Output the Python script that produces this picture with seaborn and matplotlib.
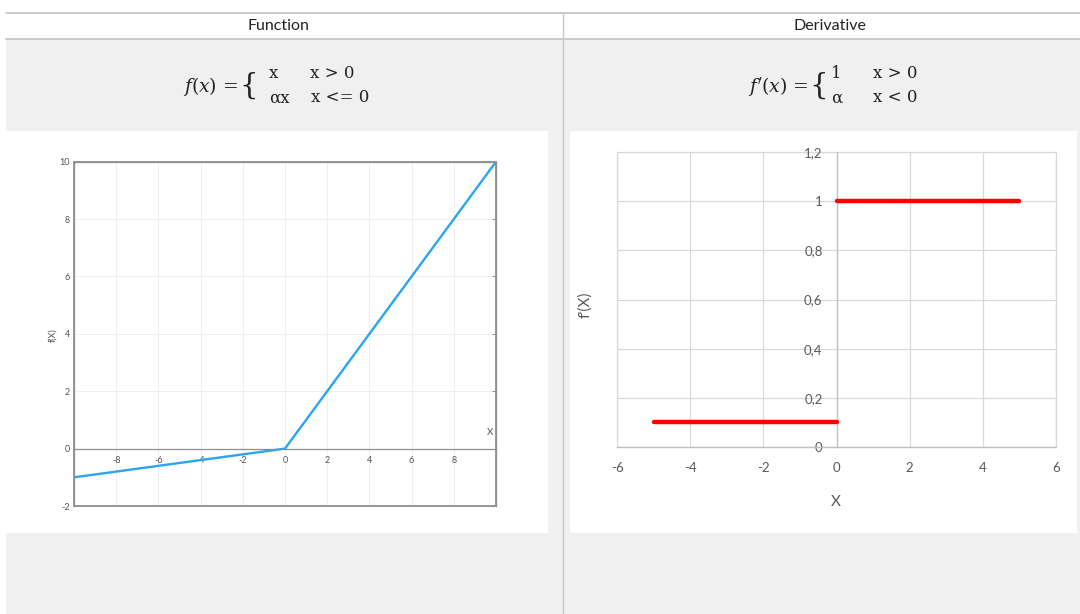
import matplotlib
matplotlib.use("Agg")
import matplotlib.pyplot as plt
import seaborn as sns
from matplotlib.patches import Rectangle
from matplotlib.lines import Line2D

# ---------------- data ----------------
column_titles = ["Function", "Derivative"]
func_x = [-10, 0, 10]
func_y = [-1, 0, 10]
func_xticks = [-8, -6, -4, -2, 0, 2, 4, 6, 8]
func_yticks = [-2, 0, 2, 4, 6, 8, 10]
deriv_neg_x = [-5, 0]
deriv_neg_y = [0.1, 0.1]
deriv_pos_x = [0, 5]
deriv_pos_y = [1, 1]
deriv_xticks = [-6, -4, -2, 0, 2, 4, 6]
deriv_yticks = [0, 0.2, 0.4, 0.6, 0.8, 1, 1.2]
deriv_yticklabels = ["0", "0,2", "0,4", "0,6", "0,8", "1", "1,2"]

sns.set_theme(style="white")
plt.rcParams["font.family"] = ["Lato", "DejaVu Sans"]
plt.rcParams["mathtext.fontset"] = "dejavuserif"
plt.rcParams["axes.unicode_minus"] = False

W, H = 1080, 614
fig = plt.figure(figsize=(10.8, 6.14), dpi=100)
fig.patch.set_facecolor("white")


def fx(x):
    return x / W


def fy(y):
    return 1 - y / H


def rect(x0, y0, x1, y1, color, z=-10):
    fig.patches.append(Rectangle((fx(x0), fy(y1)), fx(x1) - fx(x0), fy(y0) - fy(y1),
                                 transform=fig.transFigure, facecolor=color,
                                 edgecolor="none", zorder=z))


def line(x0, y0, x1, y1, color, lw):
    fig.lines.append(Line2D([fx(x0), fx(x1)], [fy(y0), fy(y1)], transform=fig.transFigure,
                            color=color, lw=lw, zorder=-5))


# table layout
rect(6, 38, 1080, 614, "#f0f0f0")
rect(6, 131, 548, 533, "white", z=-9)
rect(570, 131, 1077, 533, "white", z=-9)
line(6, 13, 1080, 13, "#c6c6c6", 1.3)
line(6, 38.5, 1080, 38.5, "#c6c6c6", 1.3)
line(563, 13, 563, 614, "#c6c6c6", 1.0)

fig.text(fx(278), fy(26), column_titles[0], ha="center", va="center", fontsize=11.5, color="#222222")
fig.text(fx(830), fy(26), column_titles[1], ha="center", va="center", fontsize=11.5, color="#222222")

serif = ["DejaVu Serif"]
fc = "#222222"
# left formula
fig.text(fx(238), fy(86), r"$f(x)$ =", ha="right", va="center", fontsize=13.5, family=serif, color=fc)
fig.text(fx(249), fy(86), "{", ha="center", va="center", fontsize=21, family=serif, color=fc)
fig.text(fx(273), fy(74), "x", ha="center", va="center", fontsize=12, family=serif, color=fc)
fig.text(fx(310), fy(74), "x > 0", ha="left", va="center", fontsize=12, family=serif, color=fc)
fig.text(fx(269), fy(98), "αx", ha="left", va="center", fontsize=12, family=serif, color=fc)
fig.text(fx(311), fy(98), "x <= 0", ha="left", va="center", fontsize=12, family=serif, color=fc)
# right formula
fig.text(fx(808), fy(86), r"$f'(x)$ =", ha="right", va="center", fontsize=13.5, family=serif, color=fc)
fig.text(fx(819), fy(86), "{", ha="center", va="center", fontsize=21, family=serif, color=fc)
fig.text(fx(836), fy(74), "1", ha="center", va="center", fontsize=12, family=serif, color=fc)
fig.text(fx(873), fy(74), "x > 0", ha="left", va="center", fontsize=12, family=serif, color=fc)
fig.text(fx(837), fy(98), "α", ha="center", va="center", fontsize=12, family=serif, color=fc)
fig.text(fx(873), fy(98), "x < 0", ha="left", va="center", fontsize=12, family=serif, color=fc)

# ---------------- left chart: function ----------------
axL = fig.add_axes([fx(74), fy(506), fx(496) - fx(74), fy(161.7) - fy(506)])
axL.set_facecolor("white")
sns.lineplot(x=func_x, y=func_y, ax=axL, color="#2aa4f4", lw=1.7)
axL.set_xlim(-10, 10)
axL.set_ylim(-2, 10)
axL.set_xticks(func_xticks)
axL.set_yticks(func_yticks)
axL.grid(True, color="#ececec", lw=0.6)
axL.spines["bottom"].set_position(("data", 0))
for s in axL.spines.values():
    s.set_color("#8f8f8f")
    s.set_linewidth(0.9)
axL.add_patch(Rectangle((0, 0), 1, 1, transform=axL.transAxes, fill=False,
                        edgecolor="#8f8f8f", lw=1.3, clip_on=False, zorder=5))
axL.tick_params(axis="both", direction="in", length=3, width=0.7, color="#8f8f8f",
                labelsize=6.5, labelcolor="#555555")
axL.tick_params(axis="y", right=True, pad=3)
axL.tick_params(axis="x", pad=5)
axL.set_xlabel("X", fontsize=7, color="#555555")
axL.xaxis.set_label_coords((490 - 74) / 422, (506 - 428) / 344.3)
axL.set_ylabel("f(X)", fontsize=6.5, color="#555555")
axL.yaxis.set_label_coords((57 - 74) / 422, (506 - 335) / 344.3)

# ---------------- right chart: derivative ----------------
axR = fig.add_axes([fx(617), fy(447), fx(1056) - fx(617), fy(152) - fy(447)])
axR.set_facecolor("white")
sns.lineplot(x=deriv_neg_x, y=deriv_neg_y, ax=axR, color="#ff0000", lw=3.2,
             solid_capstyle="round", zorder=4)
sns.lineplot(x=deriv_pos_x, y=deriv_pos_y, ax=axR, color="#ff0000", lw=3.2,
             solid_capstyle="round", zorder=4)
axR.set_xlim(-6, 6)
axR.set_ylim(0, 1.2)
axR.set_xticks(deriv_xticks)
axR.set_yticks(deriv_yticks, labels=deriv_yticklabels)
axR.grid(True, color="#d9d9d9", lw=0.9)
axR.spines["left"].set_position(("data", 0))
axR.spines["left"].set_color("#bfbfbf")
axR.spines["bottom"].set_color("#bfbfbf")
axR.spines["top"].set_visible(False)
axR.spines["right"].set_visible(False)
for s in ("left", "bottom"):
    axR.spines[s].set_linewidth(0.9)
axR.add_patch(Rectangle((0, 0), 1, 1, transform=axR.transAxes, fill=False,
                        edgecolor="#d9d9d9", lw=0.9, clip_on=False, zorder=0.5))
axR.tick_params(axis="y", direction="out", length=3, width=0.8, color="#bfbfbf",
                labelsize=9.5, labelcolor="#595959", pad=7)
axR.tick_params(axis="x", length=0, labelsize=9.5, labelcolor="#595959", pad=11)
axR.set_xlabel("X", fontsize=11, color="#595959")
axR.xaxis.set_label_coords((836 - 617) / 439, (447 - 495) / 295)
axR.set_ylabel("f'(X)", fontsize=11, color="#595959")
axR.yaxis.set_label_coords((592 - 617) / 439, (447 - 305) / 295)

fig.savefig("out.png", dpi=100, facecolor="white")
